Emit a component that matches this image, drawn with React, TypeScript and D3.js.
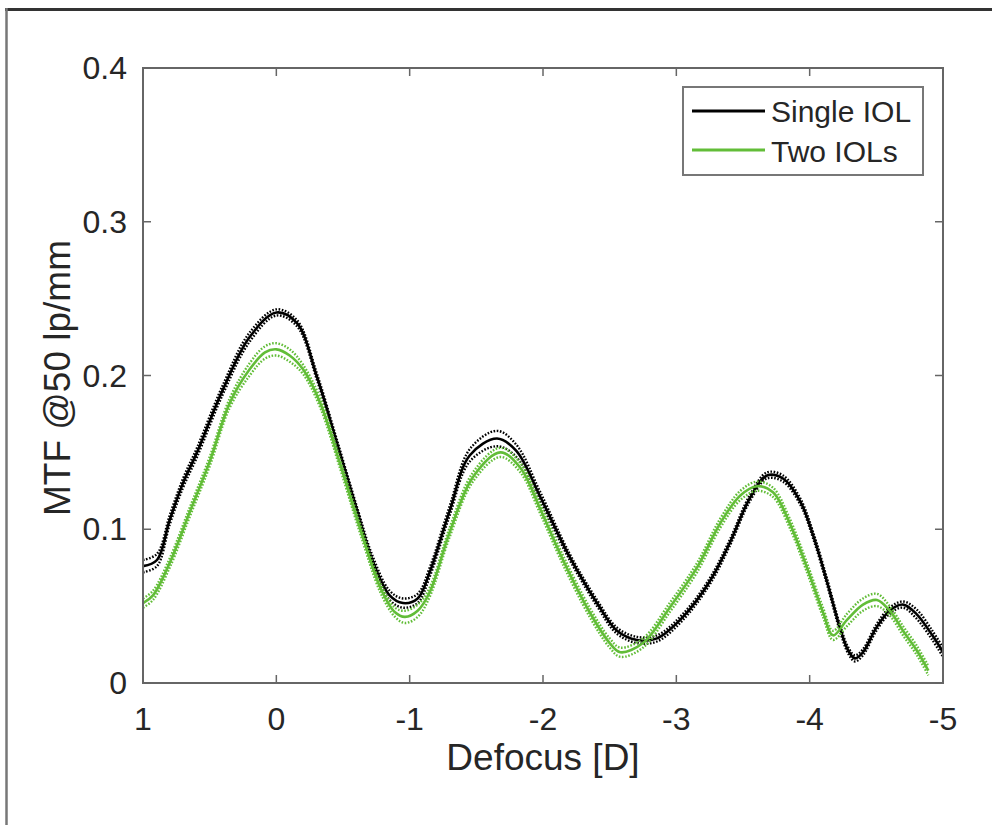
import * as d3 from 'd3';

// Defocus [D] and MTF values
const singleDefocus = [1.0, 0.895, 0.8, 0.7, 0.595, 0.4, 0.2, 0.0, -0.155, -0.305, -0.455, -0.61, -0.72, -0.85, -0.95, -1.06, -1.15, -1.3, -1.45, -1.655, -1.8, -1.98, -2.2, -2.405, -2.555, -2.705, -2.855, -3.05, -3.25, -3.4, -3.55, -3.68, -3.8, -3.93, -4.03, -4.13, -4.23, -4.29, -4.34, -4.4, -4.5, -4.6, -4.7, -4.8, -4.92, -5.0];
const singleMtf = [0.076, 0.08, 0.106, 0.13, 0.15, 0.191, 0.225, 0.241, 0.234, 0.199, 0.156, 0.111, 0.08, 0.057, 0.052, 0.055, 0.072, 0.112, 0.148, 0.159, 0.151, 0.121, 0.082, 0.052, 0.034, 0.028, 0.029, 0.043, 0.066, 0.091, 0.12, 0.135, 0.133, 0.118, 0.095, 0.066, 0.035, 0.021, 0.016, 0.02, 0.036, 0.047, 0.051, 0.045, 0.031, 0.02];
const singleSd = [0.004, 0.004, 0.003, 0.003, 0.003, 0.003, 0.003, 0.002, 0.002, 0.002, 0.002, 0.002, 0.003, 0.003, 0.003, 0.003, 0.003, 0.003, 0.004, 0.005, 0.004, 0.003, 0.002, 0.002, 0.002, 0.002, 0.002, 0.002, 0.002, 0.002, 0.002, 0.002, 0.002, 0.002, 0.002, 0.002, 0.002, 0.002, 0.002, 0.002, 0.002, 0.002, 0.002, 0.003, 0.003, 0.003];

const twoDefocus = [1.0, 0.925, 0.8, 0.65, 0.5, 0.35, 0.2, 0.085, 0.0, -0.1, -0.2, -0.33, -0.48, -0.63, -0.78, -0.89, -0.965, -1.06, -1.15, -1.3, -1.475, -1.68, -1.83, -1.98, -2.15, -2.35, -2.5, -2.58, -2.75, -2.95, -3.155, -3.33, -3.48, -3.605, -3.725, -3.85, -3.98, -4.1, -4.175, -4.28, -4.4, -4.505, -4.6, -4.7, -4.805, -4.89];
const twoMtf = [0.052, 0.057, 0.078, 0.111, 0.144, 0.182, 0.204, 0.215, 0.217, 0.213, 0.204, 0.182, 0.142, 0.1, 0.062, 0.046, 0.043, 0.047, 0.059, 0.098, 0.134, 0.15, 0.14, 0.113, 0.08, 0.046, 0.026, 0.02, 0.026, 0.049, 0.075, 0.104, 0.122, 0.128, 0.124, 0.104, 0.075, 0.046, 0.031, 0.041, 0.051, 0.054, 0.047, 0.034, 0.021, 0.008];
const twoSd = [0.003, 0.003, 0.003, 0.003, 0.003, 0.003, 0.004, 0.004, 0.004, 0.004, 0.003, 0.003, 0.003, 0.003, 0.003, 0.003, 0.004, 0.004, 0.003, 0.003, 0.003, 0.003, 0.003, 0.003, 0.003, 0.003, 0.003, 0.003, 0.003, 0.003, 0.003, 0.003, 0.003, 0.003, 0.003, 0.003, 0.003, 0.003, 0.003, 0.004, 0.004, 0.004, 0.003, 0.003, 0.003, 0.003];

const xTicks = [1, 0, -1, -2, -3, -4, -5];
const yTicks = [0, 0.1, 0.2, 0.3, 0.4];
const legendLabels = ['Single IOL', 'Two IOLs'];

const BLACK = '#000000';
const GREEN = '#62bd38';
const AXIS = '#666666';
const TEXT = '#262626';
const FONT = '"Liberation Sans", Arial, Helvetica, sans-serif';

const W = 992;
const H = 825;
const plot = { left: 143, right: 943, top: 68, bottom: 683 };

const x = d3.scaleLinear().domain([1, -5]).range([plot.left, plot.right]);
const y = d3.scaleLinear().domain([0, 0.4]).range([plot.bottom, plot.top]);

const line = d3
  .line<[number, number]>()
  .x(d => x(d[0]))
  .y(d => y(d[1]))
  .curve(d3.curveCatmullRom.alpha(0.5));

const zipPts = (xs: number[], ys: number[], sd: number[], k: number) =>
  xs.map((v, i) => [v, ys[i] + k * sd[i]] as [number, number]);

const series = [
  { name: legendLabels[0], color: BLACK, xs: singleDefocus, ys: singleMtf, sd: singleSd },
  { name: legendLabels[1], color: GREEN, xs: twoDefocus, ys: twoMtf, sd: twoSd }
];

export default function App() {
  const tickLen = 8;
  return (
    <svg
      width={W}
      height={H}
      style={{ position: 'absolute', left: 0, top: 0, background: 'white' }}
      fontFamily={FONT}
    >
      {/* outer frame of the figure */}
      <line x1={5} x2={W} y1={9.5} y2={9.5} stroke="#333" strokeWidth={3} />
      <line x1={6.5} x2={6.5} y1={8} y2={H} stroke="#777" strokeWidth={2.5} />

      {/* bands (dotted) then mean lines */}
      {series.map(s => (
        <g key={s.name}>
          <path d={line(zipPts(s.xs, s.ys, s.sd, 1)) || ''} fill="none" stroke={s.color} strokeWidth={2.4} strokeDasharray="1.6 1.6" />
          <path d={line(zipPts(s.xs, s.ys, s.sd, -1)) || ''} fill="none" stroke={s.color} strokeWidth={2.4} strokeDasharray="1.6 1.6" />
          <path d={line(zipPts(s.xs, s.ys, s.sd, 0)) || ''} fill="none" stroke={s.color} strokeWidth={2.6} />
        </g>
      ))}

      {/* axes box */}
      <rect x={plot.left} y={plot.top} width={plot.right - plot.left} height={plot.bottom - plot.top} fill="none" stroke={AXIS} strokeWidth={2} />

      {xTicks.map(t => (
        <g key={'x' + t}>
          <line x1={x(t)} x2={x(t)} y1={plot.bottom} y2={plot.bottom - tickLen} stroke={AXIS} strokeWidth={1.5} />
          <line x1={x(t)} x2={x(t)} y1={plot.top} y2={plot.top + tickLen} stroke={AXIS} strokeWidth={1.5} />
          <text x={x(t)} y={plot.bottom + 47} textAnchor="middle" fontSize={32} fill={TEXT}>
            {t < 0 ? '-' + Math.abs(t) : String(t)}
          </text>
        </g>
      ))}

      {yTicks.map(t => (
        <g key={'y' + t}>
          <line x1={plot.left} x2={plot.left + tickLen} y1={y(t)} y2={y(t)} stroke={AXIS} strokeWidth={1.5} />
          <line x1={plot.right} x2={plot.right - tickLen} y1={y(t)} y2={y(t)} stroke={AXIS} strokeWidth={1.5} />
          <text x={127} y={y(t) + 11} textAnchor="end" fontSize={32} fill={TEXT}>
            {String(t)}
          </text>
        </g>
      ))}

      <text x={543} y={770} textAnchor="middle" fontSize={37} fill={TEXT}>
        Defocus [D]
      </text>
      <text transform="translate(70,378) rotate(-90)" textAnchor="middle" fontSize={37} fill={TEXT}>
        MTF @50 lp/mm
      </text>

      {/* legend */}
      <rect x={683} y={87} width={240} height={88} fill="white" stroke="#777" strokeWidth={2} />
      {series.map((s, i) => (
        <g key={'lg' + s.name}>
          <line x1={692} x2={765} y1={111 + i * 39} y2={111 + i * 39} stroke={s.color} strokeWidth={3} />
          <text x={771} y={122 + i * 40} fontSize={30} fill={TEXT}>
            {s.name}
          </text>
        </g>
      ))}
    </svg>
  );
}
